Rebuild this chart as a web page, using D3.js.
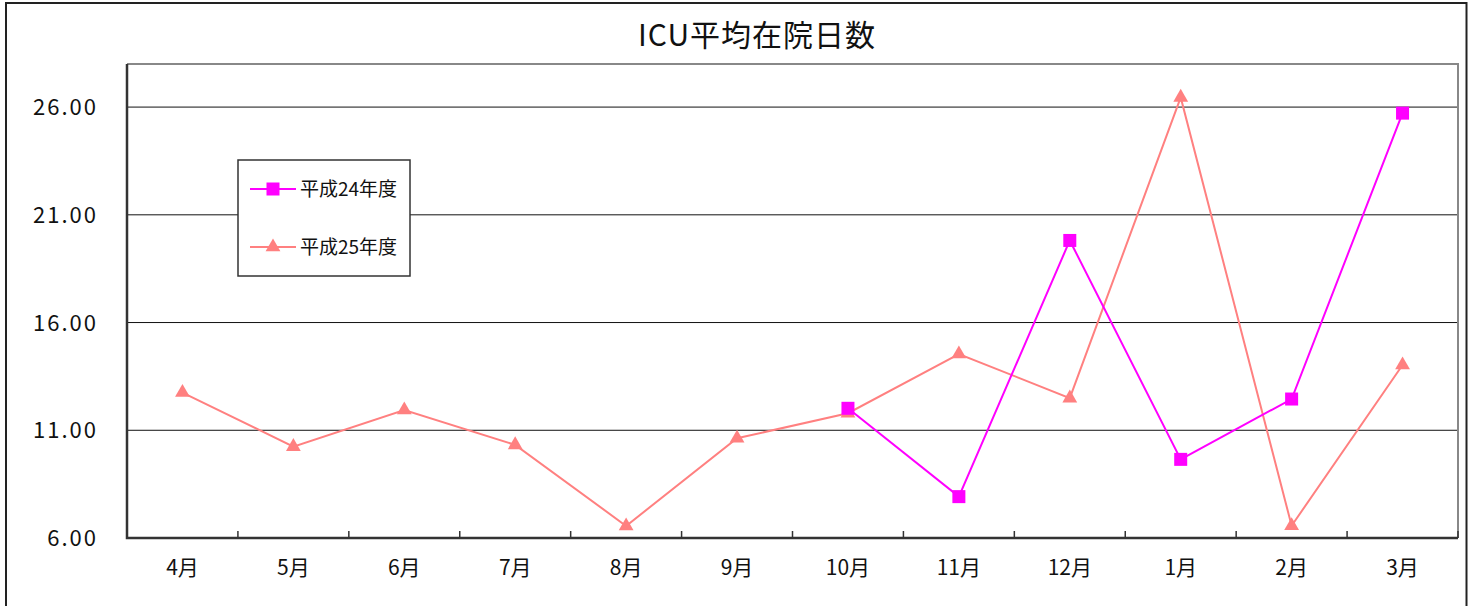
<!DOCTYPE html>
<html>
<head>
<meta charset="utf-8">
<title>ICU平均在院日数</title>
<script src="https://d3js.org/d3.v7.min.js"></script>
<style>
  body { margin: 0; background: #fff; }
  text { font-family: "Noto Sans CJK JP", "Noto Sans", sans-serif; fill: #111; }
</style>
</head>
<body>
<svg width="1477" height="606"></svg>
<script>
const months = ["4月", "5月", "6月", "7月", "8月", "9月", "10月", "11月", "12月", "1月", "2月", "3月"];
const h24 = [null, null, null, null, null, null, 12.02, 7.92, 19.81, 9.65, 12.45, 25.72];
const h25 = [12.75, 10.24, 11.94, 10.32, 6.56, 10.63, 11.79, 14.54, 12.49, 26.45, 6.57, 14.03];
const yTicks = [6, 11, 16, 21, 26];
const seriesNames = ["平成24年度", "平成25年度"];

const svg = d3.select("svg");
const m = { left: 127, right: 1458, top: 64, bottom: 538 };

// 外枠
svg.append("rect").attr("x", 6).attr("y", 3).attr("width", 1460.5).attr("height", 620)
  .attr("fill", "none").attr("stroke", "#222").attr("stroke-width", 2);

svg.append("text").attr("x", 757).attr("y", 46).attr("text-anchor", "middle")
  .style("font-size", "30px").style("letter-spacing", "1px").text("ICU平均在院日数");

const x = d3.scaleBand().domain(months).range([m.left, m.right]);
const y = d3.scaleLinear().domain([6, 28]).range([m.bottom, m.top]);

// グリッド線
svg.append("g").selectAll("line").data(yTicks.slice(1)).join("line")
  .attr("x1", m.left).attr("x2", m.right)
  .attr("y1", d => y(d)).attr("y2", d => y(d))
  .attr("stroke", "#111").attr("stroke-width", 1);

// 枠 (上・右は灰色)
svg.append("path").attr("fill", "none").attr("stroke", "#888").attr("stroke-width", 2)
  .attr("d", `M${m.left},${m.top}H${m.right}V${m.bottom}`);

// y軸ラベル
svg.append("g").selectAll("text").data(yTicks).join("text")
  .attr("x", 98).attr("y", d => y(d) + 8).attr("text-anchor", "end")
  .style("font-size", "22px").style("letter-spacing", "2px")
  .text(d => d.toFixed(2));

// x軸
const xAxis = svg.append("g").attr("transform", `translate(0,${m.bottom})`);
xAxis.selectAll("line").data(months.slice(1)).join("line")
  .attr("x1", d => x(d)).attr("x2", d => x(d)).attr("y1", 0).attr("y2", -7)
  .attr("stroke", "#333").attr("stroke-width", 1.5);
xAxis.append("line").attr("x1", m.right).attr("x2", m.right).attr("y1", 0).attr("y2", -7)
  .attr("stroke", "#333").attr("stroke-width", 1.5);
xAxis.selectAll("text").data(months).join("text")
  .attr("x", d => x(d) + x.bandwidth() / 2).attr("y", 37).attr("text-anchor", "middle")
  .style("font-size", "21px").text(d => d);

svg.append("path").attr("fill", "none").attr("stroke", "#333").attr("stroke-width", 2.5)
  .attr("d", `M${m.left},${m.top}V${m.bottom}H${m.right}`);

const cx = (d, i) => x(months[i]) + x.bandwidth() / 2;
const line = d3.line().defined(d => d != null).x(cx).y(d => y(d));

const tri = d3.symbol().type(d3.symbolTriangle).size(95);

function drawSeries(vals, color, shape) {
  svg.append("path").datum(vals).attr("fill", "none").attr("stroke", color)
    .attr("stroke-width", 2).attr("d", line);
  const pts = vals.map((v, i) => ({ v, i })).filter(p => p.v != null);
  if (shape === "square") {
    svg.append("g").selectAll("rect").data(pts).join("rect")
      .attr("x", p => cx(p.v, p.i) - 6.5).attr("y", p => y(p.v) - 6.5)
      .attr("width", 13).attr("height", 13).attr("fill", color);
  } else {
    svg.append("g").selectAll("path").data(pts).join("path")
      .attr("d", tri).attr("fill", color)
      .attr("transform", p => `translate(${cx(p.v, p.i)},${y(p.v)})`);
  }
}

drawSeries(h25, "#ff8080", "triangle");
drawSeries(h24, "#ff00ff", "square");

// 凡例
const lg = svg.append("g");
lg.append("rect").attr("x", 238).attr("y", 160).attr("width", 172).attr("height", 116)
  .attr("fill", "#fff").attr("stroke", "#333").attr("stroke-width", 1.5);
const colors = ["#ff00ff", "#ff8080"];
seriesNames.forEach((name, k) => {
  const ly = 189 + k * 58;
  lg.append("line").attr("x1", 250).attr("x2", 296).attr("y1", ly).attr("y2", ly)
    .attr("stroke", colors[k]).attr("stroke-width", 2);
  if (k === 0) {
    lg.append("rect").attr("x", 266.5).attr("y", ly - 6.5).attr("width", 13).attr("height", 13)
      .attr("fill", colors[k]);
  } else {
    lg.append("path").attr("d", tri).attr("fill", colors[k])
      .attr("transform", `translate(273,${ly})`);
  }
  lg.append("text").attr("x", 300).attr("y", ly + 7).style("font-size", "19px").text(name);
});
</script>
</body>
</html>
